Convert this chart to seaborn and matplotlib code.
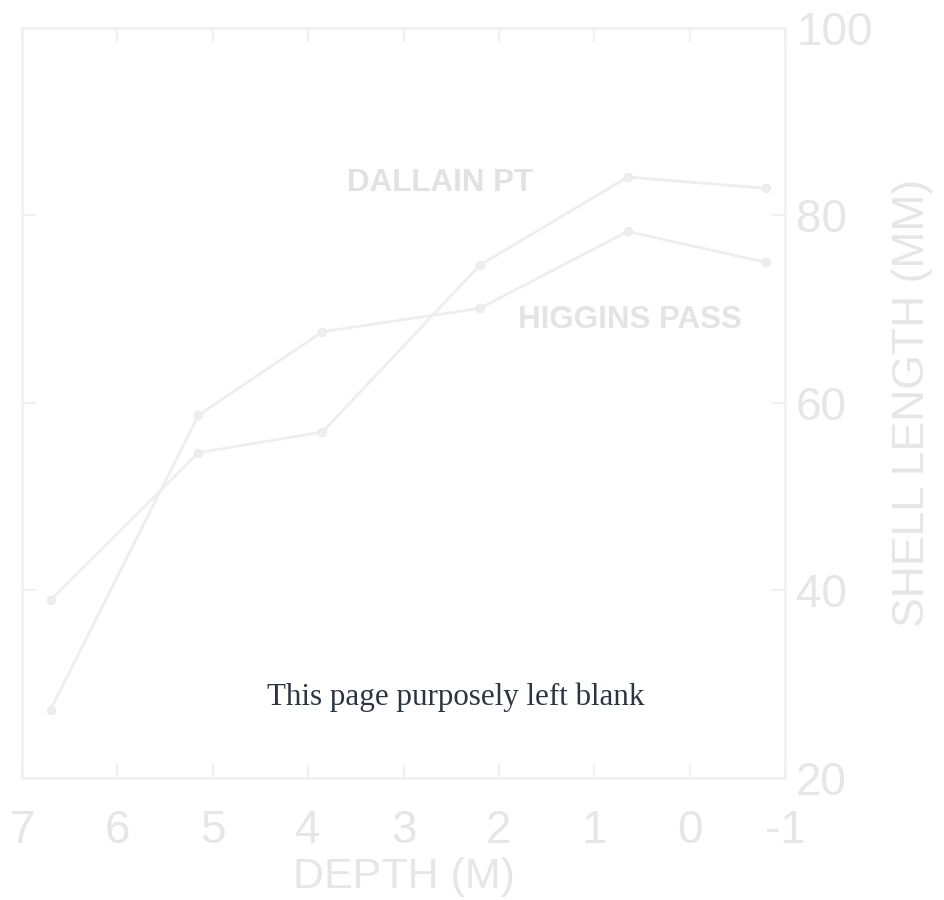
import matplotlib
matplotlib.use("Agg")
import matplotlib.pyplot as plt
import seaborn as sns
import pandas as pd

# Mean shell length by depth at two collection sites
depth = [6.7, 5.15, 3.85, 2.2, 0.65, -0.8]
dallain_pt = [39.0, 54.7, 56.9, 74.7, 84.1, 82.9]
higgins_pass = [27.3, 58.7, 67.6, 70.1, 78.3, 75.0]
site_names = ["DALLAIN PT", "HIGGINS PASS"]
x_ticks = [7, 6, 5, 4, 3, 2, 1, 0, -1]
y_ticks = [20, 40, 60, 80, 100]

df = pd.DataFrame({
    "depth": depth * 2,
    "length": dallain_pt + higgins_pass,
    "site": [site_names[0]] * len(depth) + [site_names[1]] * len(depth),
})

sns.set_theme(style="white")
plt.rcParams["font.family"] = ["Liberation Sans", "DejaVu Sans"]

faint_line = "#eeeeee"
faint_text = "#e6e6e6"
faint_frame = "#f0f0f0"

fig = plt.figure(figsize=(9.45, 9.0), dpi=100)
fig.patch.set_facecolor("white")
ax = fig.add_axes([0.0233, 0.1356, 0.8074, 0.8333])
ax.set_facecolor("white")

sns.lineplot(data=df, x="depth", y="length", hue="site",
             palette=[faint_line, faint_line], marker="o", markersize=6,
             markeredgecolor="#eaeaea", linewidth=2.0, sort=False,
             legend=False, ax=ax)

ax.set_xlim(7, -1)
ax.set_ylim(20, 100)
ax.set_xticks(x_ticks)
ax.set_xticklabels([str(t) for t in x_ticks])
ax.set_yticks(y_ticks)
ax.yaxis.tick_right()
ax.yaxis.set_label_position("right")

ax.tick_params(axis="x", direction="in", length=10, width=1.5, colors=faint_frame,
               labelcolor=faint_text, labelsize=33, pad=22, top=True, bottom=True)
ax.tick_params(axis="y", direction="in", length=10, width=1.5, colors=faint_frame,
               labelcolor=faint_text, labelsize=33, pad=8, left=True, right=True)

for spine in ax.spines.values():
    spine.set_color(faint_frame)
    spine.set_linewidth(1.8)

ax.set_xlabel("DEPTH (M)", fontsize=31, color=faint_text, labelpad=3)
ax.set_ylabel("SHELL LENGTH (MM)", fontsize=32, color=faint_text,
              rotation=90, labelpad=14)

# Site labels beside their curves
ax.text(2.62, 83.5, site_names[0], fontsize=22.5, color="#e2e2e2",
        ha="center", va="center", fontweight="bold")
ax.text(0.63, 68.9, site_names[1], fontsize=22.5, color="#e4e4e4",
        ha="center", va="center", fontweight="bold")

fig.text(0.4825, 0.2256, "This page purposely left blank", fontsize=22.3,
         color="#2b3442", ha="center", va="center",
         family=["Liberation Serif", "DejaVu Serif"])

fig.savefig("out.png", dpi=100, facecolor="white")
